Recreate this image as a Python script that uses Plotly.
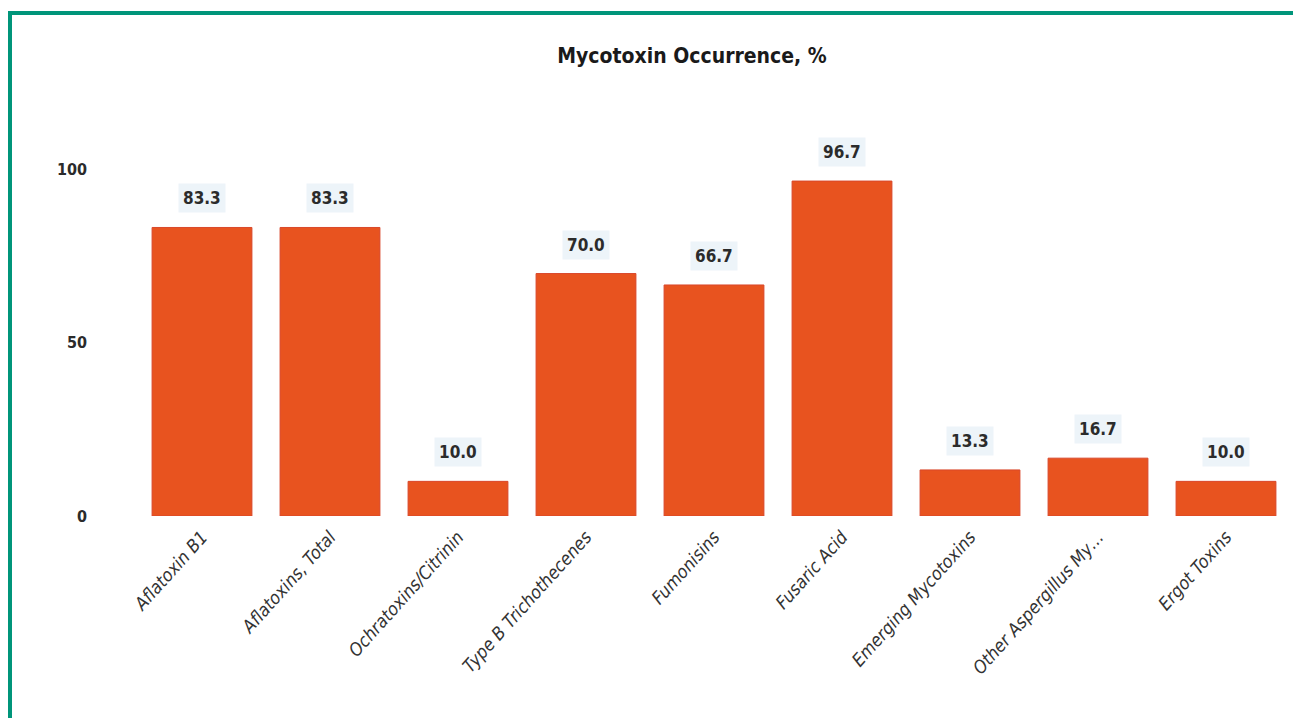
import plotly.graph_objects as go

# Mycotoxin occurrence data (% of samples)
categories = [
    "Aflatoxin B1",
    "Aflatoxins, Total",
    "Ochratoxins/Citrinin",
    "Type B Trichothecenes",
    "Fumonisins",
    "Fusaric Acid",
    "Emerging Mycotoxins",
    "Other Aspergillus My…",
    "Ergot Toxins",
]
occurrence = [83.3, 83.3, 10.0, 70.0, 66.7, 96.7, 13.3, 16.7, 10.0]
y_ticks = [0, 50, 100]

W, H = 1293, 718
ML, MR, MT, MB = 138, 3, 135, 202
Y_MAX = 110

BAR_COLOR = "#E8531F"
BORDER = "#00957A"
FONT = "DejaVu Sans Condensed"

fig = go.Figure(
    go.Bar(
        x=categories,
        y=occurrence,
        marker=dict(color=BAR_COLOR, line=dict(color="#D9472A", width=1)),
        hoverinfo="x+y",
    )
)

# value labels on light boxes above each bar
for cat, val in zip(categories, occurrence):
    fig.add_annotation(
        x=cat, y=val, text=f"{val:.1f}", showarrow=False,
        yshift=29, font=dict(family=FONT, size=17, color="#2b2b2b", weight="bold"),
        bgcolor="#EDF4F9", borderpad=4,
    )

# green frame along the left and top edges of the page
pw, ph = W - ML - MR, H - MT - MB
def px_to_paper_x(px):
    return (px - ML) / pw
def px_to_paper_y(py):
    return (H - MB - py) / ph

fig.add_shape(type="line", xref="paper", yref="paper",
              x0=px_to_paper_x(10), x1=px_to_paper_x(10),
              y0=px_to_paper_y(11), y1=px_to_paper_y(H + 5),
              line=dict(color=BORDER, width=4))
fig.add_shape(type="line", xref="paper", yref="paper",
              x0=px_to_paper_x(8), x1=px_to_paper_x(W + 5),
              y0=px_to_paper_y(13), y1=px_to_paper_y(13),
              line=dict(color=BORDER, width=4))

fig.update_layout(
    width=W, height=H,
    margin=dict(l=ML, r=MR, t=MT, b=MB),
    paper_bgcolor="white", plot_bgcolor="white",
    bargap=0.22,
    showlegend=False,
    title=dict(
        text="<b>Mycotoxin Occurrence, %</b>",
        x=692 / W, xref="container", xanchor="center",
        y=1 - 56 / H, yanchor="middle",
        font=dict(family=FONT, size=21, color="#1a1a1a"),
    ),
    xaxis=dict(
        tickangle=-48,
        tickfont=dict(family=FONT, size=18, color="#333333", style="italic"),
        showgrid=False, showline=False, zeroline=False, ticks="",
        ticklabelstandoff=6,
    ),
    yaxis=dict(
        range=[0, Y_MAX],
        tickvals=y_ticks,
        tickfont=dict(family=FONT, size=16, color="#2b2b2b", weight="bold"),
        showgrid=False, showline=False, zeroline=False, ticks="",
        ticklabelstandoff=50,
    ),
)

fig.write_html("out.html")
